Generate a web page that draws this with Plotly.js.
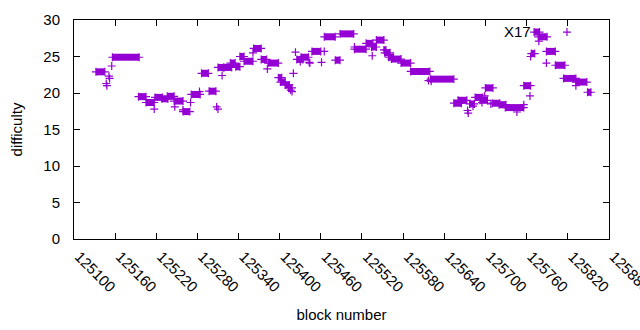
<!DOCTYPE html>
<html>
<head>
<meta charset="utf-8">
<script src="https://cdn.plot.ly/plotly-3.0.1.min.js"></script>
<style>
html,body{margin:0;padding:0;background:#fff;}
#chart{width:640px;height:330px;}
</style>
</head>
<body>
<div id="chart"></div>
<script>
// Runs of blocks sharing a difficulty value (start block, end block, difficulty).
// A single block has blockStart === blockEnd.
const blockStart = [125132,125147,125148,125151,125152,125155,125156,125194,125205,125217,125218,125228,125236,125246,125247,125259,125259,125270,125271,125283,125286,125297,125308,125310,125310,125316,125319,125328,125336,125342,125348,125361,125362,125373,125382,125383,125398,125401,125408,125413,125416,125418,125420,125423,125425,125430,125431,125443,125444,125447,125461,125465,125465,125481,125488,125509,125509,125526,125534,125535,125541,125552,125553,125559,125563,125577,125591,125617,125620,125621,125654,125660,125674,125675,125677,125682,125685,125692,125695,125699,125700,125708,125710,125720,125729,125746,125756,125756,125765,125766,125767,125771,125777,125778,125789,125789,125802,125814,125819,125832,125832,125849];
const blockEnd   = [125145,125147,125148,125151,125152,125155,125195,125205,125217,125217,125229,125237,125246,125259,125247,125259,125269,125270,125284,125283,125296,125307,125308,125310,125318,125316,125330,125335,125342,125348,125361,125361,125373,125381,125382,125398,125403,125408,125414,125418,125416,125418,125420,125423,125434,125430,125442,125443,125444,125460,125461,125465,125481,125488,125508,125526,125509,125536,125541,125535,125552,125555,125561,125566,125577,125591,125619,125617,125654,125621,125665,125673,125674,125675,125684,125682,125696,125703,125695,125699,125711,125708,125721,125730,125756,125746,125756,125766,125765,125766,125772,125779,125790,125778,125802,125789,125816,125832,125819,125848,125832,125854];
const difficulty = [22.9,21.3,21.0,22.3,22.0,23.7,24.9,19.5,18.7,17.8,19.4,19.2,19.55,18.9,18.1,17.7,17.45,18.7,19.8,20.2,22.7,20.25,18.1,17.8,23.5,22.4,23.5,24.1,23.6,25.0,24.35,25.5,26.1,24.6,23.3,24.1,22.1,21.5,21.1,20.7,20.4,20.2,22.7,25.6,24.6,24.3,24.9,24.2,24.1,25.7,24.2,25.7,27.7,24.5,28.1,26.0,26.3,26.8,26.3,25.1,27.25,25.9,25.5,24.9,24.65,24.1,22.95,21.7,21.9,21.6,18.6,19.0,17.6,17.25,18.5,18.2,19.4,19.0,18.7,19.6,20.7,18.5,18.6,18.4,18.0,17.4,18.4,21.0,19.6,25.0,25.4,28.35,27.7,27.1,25.7,24.1,23.8,22.0,28.35,21.5,21.0,20.1];

const xTickStart = 125100, xTickStep = 60;
const labelText = "X17", labelBlock = 125769, labelDifficulty = 28.4;

const purple = "#9400d3";
const xs = [], ys = [];
for (let i = 0; i < blockStart.length; i++) {
  xs.push(blockStart[i]); ys.push(difficulty[i]);
  if (blockEnd[i] !== blockStart[i]) { xs.push(blockEnd[i]); ys.push(difficulty[i]); }
  xs.push(null); ys.push(null);
}

const font = {family: "Liberation Sans, Arial, sans-serif", size: 15, color: "#000"};

const data = [{
  type: "scatter",
  mode: "lines+markers",
  x: xs, y: ys,
  connectgaps: false,
  line: {color: purple, width: 7},
  marker: {symbol: "cross-thin-open", size: 5.7, color: purple, line: {color: purple, width: 1.2}},
  hoverinfo: "skip",
  showlegend: false
}];

const layout = {
  width: 640, height: 330,
  margin: {l: 74, r: 31, t: 20, b: 91, pad: 0},
  paper_bgcolor: "#fff", plot_bgcolor: "#fff",
  font: font,
  showlegend: false,
  xaxis: {
    range: [125100, 125880.3],
    tick0: xTickStart, dtick: xTickStep, tickmode: "linear",
    tickformat: "d",
    tickangle: 45,
    ticks: "inside", ticklen: 6, tickcolor: "#000", tickwidth: 1,
    showline: true, linecolor: "#000", linewidth: 1, mirror: "ticks",
    showgrid: false, zeroline: false,
    tickfont: font,
    ticklabelstandoff: 2,
    ticklabelshift: 5,
    ticklabeloverflow: "allow",
    title: {text: "block number", font: font, standoff: 15}
  },
  yaxis: {
    range: [0, 30],
    tick0: 0, dtick: 5, tickmode: "linear",
    ticks: "inside", ticklen: 6, tickcolor: "#000", tickwidth: 1,
    showline: true, linecolor: "#000", linewidth: 1, mirror: "ticks",
    showgrid: false, zeroline: false,
    tickfont: font,
    ticklabelstandoff: 10,
    title: {text: "difficulty", font: font, standoff: 17}
  },
  annotations: [{
    x: labelBlock, y: labelDifficulty, xref: "x", yref: "y",
    text: labelText, showarrow: false, xanchor: "right", yanchor: "middle",
    font: font
  }]
};

Plotly.newPlot("chart", data, layout, {staticPlot: true, displayModeBar: false});
</script>
</body>
</html>
